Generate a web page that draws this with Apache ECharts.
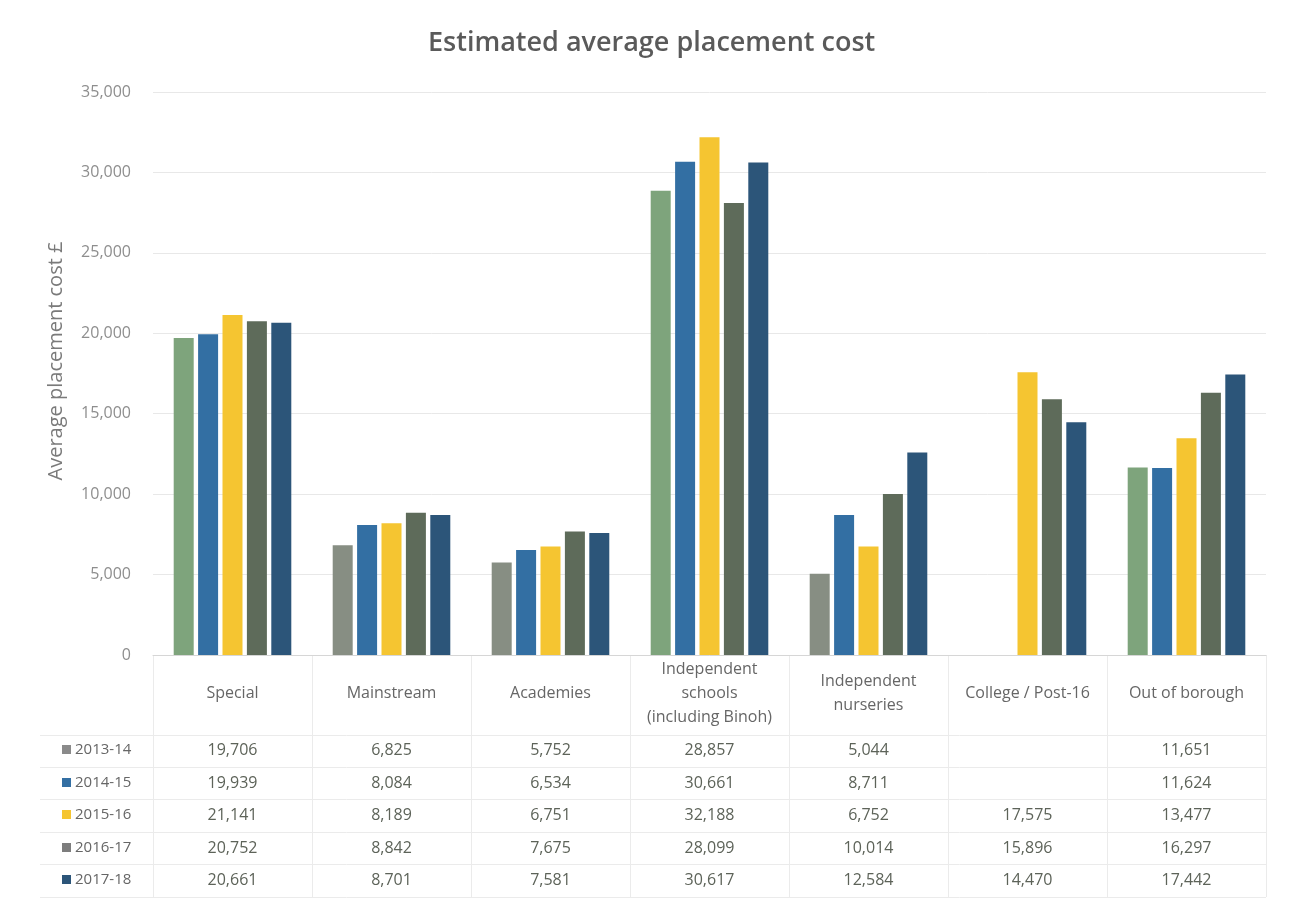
<!DOCTYPE html>
<html>
<head>
<meta charset="utf-8">
<script src="https://cdn.jsdelivr.net/npm/echarts@6/dist/echarts.min.js"></script>
<style>
  html, body { margin: 0; padding: 0; background: #ffffff; }
  #chart { width: 1293px; height: 899px; }
</style>
</head>
<body>
<div id="chart"></div>
<script>
// Placement categories (x axis) and financial years (series)
const categories = [
  'Special',
  'Mainstream',
  'Academies',
  'Independent\nschools\n(including Binoh)',
  'Independent\nnurseries',
  'College / Post-16',
  'Out of borough'
];
const years = ['2013-14', '2014-15', '2015-16', '2016-17', '2017-18'];

// Average placement cost (£) per category, one array per year
const cost2013_14 = [19706, 6825, 5752, 28857, 5044, null, 11651];
const cost2014_15 = [19939, 8084, 6534, 30661, 8711, null, 11624];
const cost2015_16 = [21141, 8189, 6751, 32188, 6752, 17575, 13477];
const cost2016_17 = [20752, 8842, 7675, 28099, 10014, 15896, 16297];
const cost2017_18 = [20661, 8701, 7581, 30617, 12584, 14470, 17442];
const seriesValues = [cost2013_14, cost2014_15, cost2015_16, cost2016_17, cost2017_18];

// Value axis range
const yMin = 0;
const yMax = 35000;
const yStep = 5000;
const yAxisTitle = 'Average placement cost £';

// Styling
const FONT = '"Open Sans", "Noto Sans", sans-serif';
const barColors = ['#7ea47c', '#336fa3', '#f5c531', '#5e6b5a', '#2c5579'];
// first-year bars alternate between a green and a grey fill
const firstYearFills = ['#7ea47c', '#878e83', '#878e83', '#7ea47c', '#878e83', '#878e83', '#7ea47c'];
const legendKeyColors = ['#8a8a8a', '#336fa3', '#f5c531', '#7d7d7d', '#2c5579'];

const fmt = v => (v === null || v === undefined) ? '' : v.toLocaleString('en-GB');

const chart = echarts.init(document.getElementById('chart'), null, { renderer: 'canvas' });

const series = seriesValues.map((vals, si) => ({
  name: years[si],
  type: 'bar',
  data: vals,
  barWidth: 20,
  barGap: '22%',
  itemStyle: {
    color: si === 0 ? (p => firstYearFills[p.dataIndex]) : barColors[si]
  }
}));

chart.setOption({
  animation: false,
  backgroundColor: '#ffffff',
  title: {
    text: 'Estimated average placement cost',
    left: 423,
    top: 25,
    textStyle: { fontFamily: FONT, fontSize: 27, fontWeight: 600, color: '#5a5a5a' }
  },
  grid: { left: 153, right: 27, top: 92, bottom: 244 },
  xAxis: {
    type: 'category',
    data: categories,
    axisLine: { lineStyle: { color: '#d6d6d6' } },
    axisTick: { show: false },
    axisLabel: {
      interval: 0,
      margin: 38,
      verticalAlign: 'middle',
      lineHeight: 24,
      fontFamily: FONT,
      fontSize: 16,
      color: '#666666'
    }
  },
  yAxis: {
    type: 'value',
    min: yMin,
    max: yMax,
    interval: yStep,
    axisLine: { show: false },
    axisTick: { show: false },
    axisLabel: {
      margin: 22,
      fontFamily: FONT,
      fontSize: 16,
      color: '#8e8e8e',
      formatter: v => fmt(v)
    },
    splitLine: { lineStyle: { color: '#e8e8e8' } }
  },
  series: series
});

// Data table under the plot: built from the same arrays, positioned on the category scale
const rowY = [750, 783, 815, 848, 880];
const centers = categories.map((c, i) => chart.convertToPixel({ xAxisIndex: 0 }, i));
const band = centers[1] - centers[0];
const left = centers[0] - band / 2;
const right = centers[centers.length - 1] + band / 2;
const axisY = chart.convertToPixel({ yAxisIndex: 0 }, 0);

const graphics = [];
const lineStyle = { stroke: '#ebebeb', lineWidth: 1 };

// value axis title, rotated
graphics.push({
  type: 'text', silent: true, x: 56, y: 361, rotation: Math.PI / 2,
  style: { text: yAxisTitle, fontFamily: FONT, fontSize: 20, fill: '#7a7a7a', align: 'center', verticalAlign: 'middle' }
});

// vertical cell borders
for (let i = 0; i <= categories.length; i++) {
  const x = Math.round(left + i * band) + 0.5;
  graphics.push({ type: 'line', silent: true, shape: { x1: x, y1: axisY, x2: x, y2: 897 }, style: lineStyle });
}
// horizontal row borders
[735, 767, 799, 832, 864, 897].forEach(y => {
  graphics.push({ type: 'line', silent: true, shape: { x1: 40, y1: y + 0.5, x2: right, y2: y + 0.5 }, style: lineStyle });
});

years.forEach((yr, si) => {
  const y = rowY[si];
  graphics.push({
    type: 'rect', silent: true,
    shape: { x: 62, y: y - 5, width: 9, height: 9 },
    style: { fill: legendKeyColors[si] }
  });
  graphics.push({
    type: 'text', silent: true, x: 75, y: y,
    style: { text: yr, fontFamily: FONT, fontSize: 15, fill: '#666666', verticalAlign: 'middle', align: 'left' }
  });
  seriesValues[si].forEach((v, ci) => {
    if (v === null) return;
    graphics.push({
      type: 'text', silent: true, x: centers[ci], y: y,
      style: { text: fmt(v), fontFamily: FONT, fontSize: 16, fill: '#5d6359', verticalAlign: 'middle', align: 'center' }
    });
  });
});

chart.setOption({ graphic: graphics });
</script>
</body>
</html>
